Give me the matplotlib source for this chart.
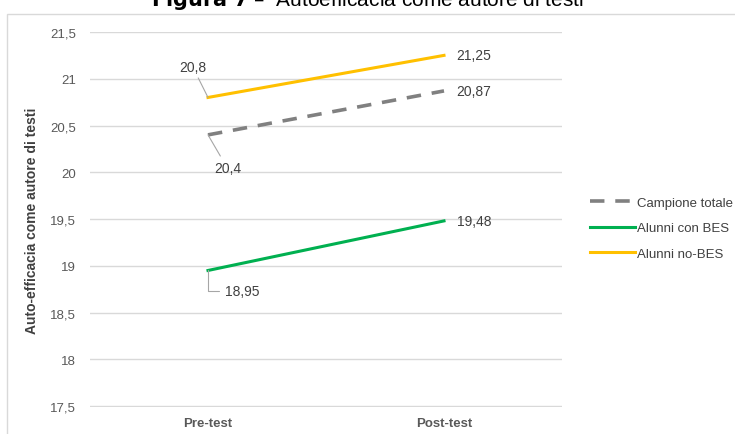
import matplotlib.pyplot as plt
from matplotlib.patches import Rectangle

# ---- data ----
phases = ['Pre-test', 'Post-test']
totale = [20.4, 20.87]
con_bes = [18.95, 19.48]
no_bes = [20.8, 21.25]
yticks = [17.5, 18, 18.5, 19, 19.5, 20, 20.5, 21, 21.5]

plt.rcParams['font.family'] = ['Liberation Sans', 'DejaVu Sans']

fig = plt.figure(figsize=(7.35, 4.35), dpi=100)
ax = fig.add_axes([90 / 735, 1 - 408 / 435, 472 / 735, 375 / 435])

# chart frame
fig.patches.append(Rectangle((7 / 735, -0.01), 1.0, 1 - 15 / 435 + 0.01,
                             transform=fig.transFigure, fill=False,
                             edgecolor='#d9d9d9', linewidth=1.0))

x = [0, 1]
ax.plot(x, totale, color='#808080', lw=2.6, ls=(0, (4, 3)),
        label='Campione totale', solid_capstyle='butt')
ax.plot(x, con_bes, color='#00b050', lw=2.2, label='Alunni con BES')
ax.plot(x, no_bes, color='#ffc000', lw=2.2, label='Alunni no-BES')

ax.set_xlim(-0.5, 1.5)
ax.set_ylim(17.49, 21.5)
ax.set_yticks(yticks)
ax.set_yticklabels([f'{v:g}'.replace('.', ',') for v in yticks],
                   fontsize=9.5, color='#595959')
ax.set_xticks(x)
ax.set_xticklabels(phases, fontsize=9.5, fontweight='bold', color='#595959')
ax.tick_params(length=0, axis='y', pad=10)
ax.tick_params(length=0, axis='x', pad=7)
ax.grid(axis='y', color='#d9d9d9', lw=1)
ax.set_axisbelow(True)
for s in ax.spines.values():
    s.set_visible(False)
ax.set_ylabel('Auto-efficacia come autore di testi', fontsize=10,
              fontweight='bold', color='#404040', labelpad=8)

# data labels
lab = dict(fontsize=10, color='#404040')
fmt = lambda v: f'{v:g}'.replace('.', ',')
lead = dict(arrowstyle='-', color='#a6a6a6', lw=0.8, shrinkA=1, shrinkB=0)
ax.annotate(fmt(no_bes[0]), (0, no_bes[0]), xytext=(-11, 22),
            textcoords='offset points', ha='center', va='center',
            arrowprops=lead, **lab)
ax.annotate(fmt(totale[0]), (0, totale[0]), xytext=(14, -24),
            textcoords='offset points', ha='center', va='center',
            arrowprops=dict(lead, shrinkA=2), **lab)
ax.annotate(fmt(con_bes[0]), (0, con_bes[0]), xytext=(12, -15),
            textcoords='offset points', ha='left', va='center',
            arrowprops=dict(arrowstyle='-', color='#a6a6a6', lw=0.8,
                            shrinkA=2, shrinkB=0, relpos=(0, 0.5),
                            connectionstyle='angle,angleA=0,angleB=90,rad=0'),
            **lab)
for s in (no_bes, totale, con_bes):
    ax.annotate(fmt(s[1]), (1, s[1]), xytext=(9, 0),
                textcoords='offset points', ha='left', va='center', **lab)

fig.legend(loc='center left', bbox_to_anchor=(578 / 735, 1 - 229 / 435),
           frameon=False, fontsize=9.5, handlelength=3.4, handletextpad=0.2,
           labelspacing=1.0, labelcolor='#404040')

# title, clipped at the top as in the original
fig.text(0.5, 1.0, r'$\bf{Figura\ 7}$ –  Autoefficacia come autore di testi',
         ha='center', va='center', fontsize=15, color='#000000')

fig.savefig('out.png', dpi=100)
